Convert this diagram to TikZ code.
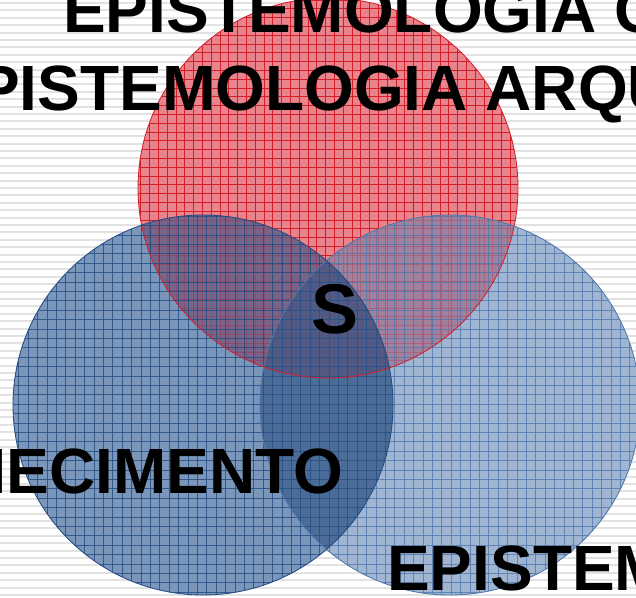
\documentclass[tikz,border=0pt]{standalone}
\usepackage{fontspec}
\setmainfont{Liberation Sans}

\definecolor{redfill}{RGB}{234,132,140}
\definecolor{redline}{RGB}{212,30,42}
\definecolor{leftfill}{RGB}{122,150,186}
\definecolor{leftline}{RGB}{34,76,130}
\definecolor{rightfill}{RGB}{160,181,209}
\definecolor{rightline}{RGB}{80,120,172}
\definecolor{rlfill}{RGB}{120,88,124}
\definecolor{rrfill}{RGB}{160,116,146}
\definecolor{lrfill}{RGB}{76,108,152}
\definecolor{allfill}{RGB}{72,88,132}
\definecolor{stripe}{RGB}{226,226,226}

\tikzset{
  stripeline/.style={stripe, line width=0.05cm},
  gridline/.style={line width=0.45pt},
  bigword/.style={font=\fontsize{45.5}{48}\selectfont\bfseries, inner sep=0pt, anchor=base west},
}

\begin{document}
\begin{tikzpicture}[x=0.025cm, y=-0.025cm]
	\useasboundingbox (0,0) rectangle (636,597);
	\clip (0,0) rectangle (636,597);
	% striped background
	\fill[white] (0,0) rectangle (636,597);
	\foreach \y in {3,10.4,...,600}
		\draw[stripeline] (0,\y) -- (636,\y);

	\coordinate (arq) at (328,188);
	\coordinate (con) at (203,405);
	\coordinate (epi) at (450,405);
	\def\rad{190}

	% plain fills
	\fill[redfill] (arq) circle[radius=\rad];
	\fill[rightfill] (epi) circle[radius=\rad];
	\fill[leftfill] (con) circle[radius=\rad];
	\begin{scope}
		\clip (con) circle[radius=\rad];
		\fill[lrfill] (epi) circle[radius=\rad];
	\end{scope}

	% red grid, dimmed later where the blue circles lie on it
	\begin{scope}
		\clip (arq) circle[radius=\rad];
		\foreach \t in {0,8.8,...,640} {
			\draw[gridline, redline] (\t,0) -- (\t,600);
			\draw[gridline, redline] (0,\t) -- (640,\t);
		}
	\end{scope}

	% overlaps with the red circle
	\begin{scope}[opacity=0.8]
		\clip (arq) circle[radius=\rad];
		\fill[rrfill] (epi) circle[radius=\rad];
		\fill[rlfill] (con) circle[radius=\rad];
		\clip (con) circle[radius=\rad];
		\fill[allfill] (epi) circle[radius=\rad];
	\end{scope}

	% blue grids
	\begin{scope}
		\clip (epi) circle[radius=\rad];
		\foreach \t in {0,9.4,...,640} {
			\draw[gridline, rightline, opacity=0.8] (\t,0) -- (\t,600);
			\draw[gridline, rightline, opacity=0.8] (0,\t) -- (640,\t);
		}
	\end{scope}
	\begin{scope}
		\clip (con) circle[radius=\rad];
		\foreach \t in {0,9.4,...,640} {
			\draw[gridline, leftline, opacity=0.8] (\t,0) -- (\t,600);
			\draw[gridline, leftline, opacity=0.8] (0,\t) -- (640,\t);
		}
	\end{scope}

	% outlines
	\draw[redline, line width=0.6pt] (arq) circle[radius=\rad];
	\draw[rightline, line width=0.6pt] (epi) circle[radius=\rad];
	\draw[leftline, line width=0.6pt] (con) circle[radius=\rad];

	% words
	\node[bigword] (gen) at (63,33) {EPISTEMOLOGIA G};
	\node[bigword] (arqword) at (-23,111) {PISTEMOLOGIA ARQU};
	\node[bigword, font=\fontsize{50}{52}\selectfont\bfseries, anchor=center] (s) at (334.5,309) {S};
	\node[bigword] (conword) at (-40,493) {NECIMENTO};
	\node[bigword] (epiword) at (387,590) {EPISTEM};
\end{tikzpicture}
\end{document}
